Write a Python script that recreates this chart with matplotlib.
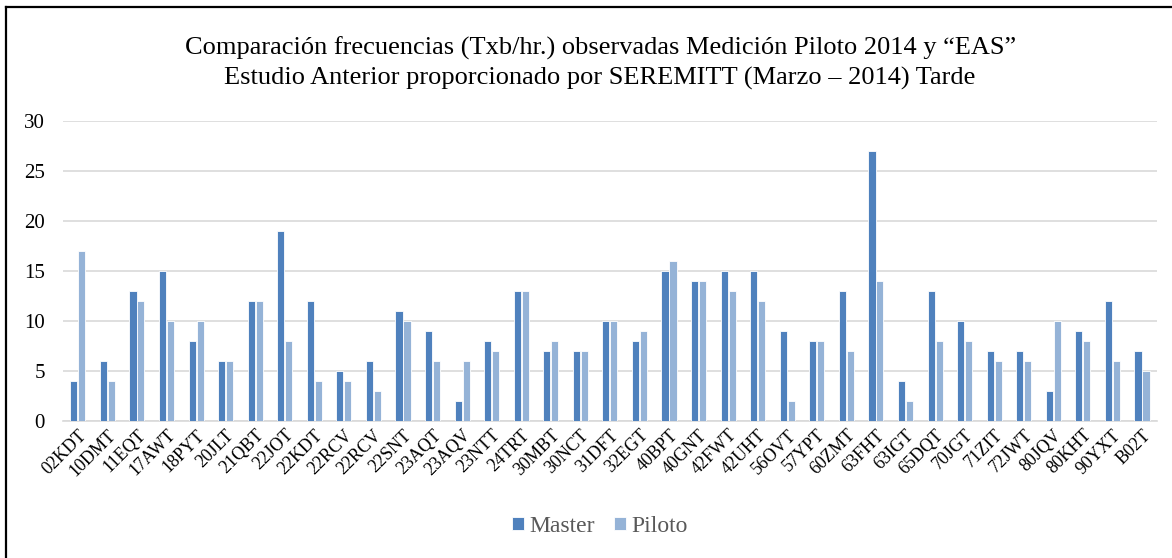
import numpy as np
import matplotlib.pyplot as plt
from matplotlib.lines import Line2D

plt.rcParams['font.family'] = ['Liberation Serif', 'DejaVu Serif']

codigos = ['02KDT', '10DMT', '11EQT', '17AWT', '18PYT', '20JLT', '21QBT', '22JOT',
           '22KDT', '22RCV', '22RCV', '22SNT', '23AQT', '23AQV', '23NTT', '24TRT',
           '30MBT', '30NCT', '31DFT', '32EGT', '40BPT', '40GNT', '42FWT', '42UHT',
           '56OVT', '57YPT', '60ZMT', '63FHT', '63IGT', '65DQT', '70JGT', '71ZIT',
           '72JWT', '80JQV', '80KHT', '90YXT', 'B02T']
master = [4, 6, 13, 15, 8, 6, 12, 19, 12, 5, 6, 11, 9, 2, 8, 13, 7, 7, 10, 8,
          15, 14, 15, 15, 9, 8, 13, 27, 4, 13, 10, 7, 7, 3, 9, 12, 7]
piloto = [17, 4, 12, 10, 10, 6, 12, 8, 4, 4, 3, 10, 6, 6, 7, 13, 8, 7, 10, 9,
          16, 14, 13, 12, 2, 8, 7, 14, 2, 8, 8, 6, 6, 10, 8, 6, 5]

fig = plt.figure(figsize=(11.72, 5.58), dpi=100)
ax = fig.add_axes([0.0538, 0.2455, 0.9332, 0.5377])

x = np.arange(len(codigos))
w = 0.24
ax.bar(x - 0.135, master, width=w, color='#4F81BD', edgecolor='white',
       linewidth=0.6, label='Master', zorder=3)
ax.bar(x + 0.135, piloto, width=w, color='#95B3D7', edgecolor='white',
       linewidth=0.6, label='Piloto', zorder=3)

ax.set_xlim(-0.5, len(codigos) - 0.5)
ax.set_ylim(0, 30)
ax.set_yticks(range(0, 31, 5))
ax.yaxis.grid(True, color='#D9D9D9', linewidth=1.2)
ax.set_axisbelow(True)
for s in ['top', 'right', 'left']:
    ax.spines[s].set_visible(False)
ax.spines['bottom'].set_color('#D9D9D9')
ax.spines['bottom'].set_linewidth(1.2)
ax.tick_params(axis='both', length=0)
ax.tick_params(axis='y', pad=13, labelsize=15)
ax.set_xticks(x)
ax.set_xticklabels(codigos, rotation=45, ha='right', rotation_mode='anchor')
ax.tick_params(axis='x', pad=4, labelsize=13)

fig.text(0.512, 0.914, 'Comparación frecuencias (Txb/hr.) observadas Medición Piloto 2014 y \u201cEAS\u201d',
         ha='center', va='center', fontsize=19)
fig.text(0.512, 0.860, 'Estudio Anterior proporcionado por SEREMITT (Marzo \u2013 2014) Tarde',
         ha='center', va='center', fontsize=19)

leg = fig.legend(loc='center', bbox_to_anchor=(0.512, 0.057), ncol=2, frameon=False,
                 fontsize=17, handlelength=0.5, handleheight=0.5, handletextpad=0.25,
                 columnspacing=0.8)
for t in leg.get_texts():
    t.set_color('#595959')

# frame around the chart area
fig.add_artist(Line2D([6 / 1172, 6 / 1172], [0, 1 - 7 / 558], color='black', linewidth=1.6))
fig.add_artist(Line2D([6 / 1172, 1], [1 - 7 / 558, 1 - 7 / 558], color='black', linewidth=1.6))

fig.savefig('out.png', dpi=100)
